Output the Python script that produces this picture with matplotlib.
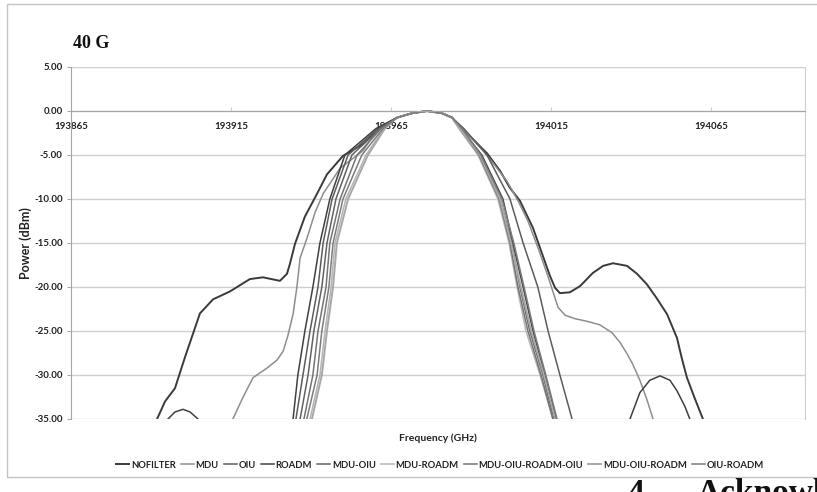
import matplotlib.pyplot as plt
from matplotlib.patches import Rectangle
from matplotlib.ticker import FormatStrFormatter, MultipleLocator

# spectra (frequency in GHz, power in dBm)
freq_ticks = [193865, 193915, 193965, 194015, 194065]

nofilter_f = [193891.9, 193894.4, 193897.5, 193900.6, 193905.3, 193909.4, 193914.7, 193920.9,
              193925.0, 193930.3, 193932.5, 193933.4, 193935.0, 193938.1, 193941.9, 193945.0,
              193950.0, 193956.3, 193960.3, 193966.9, 193971.6, 193976.3, 193980.9, 193984.1,
              193985.6, 193990.6, 193995.0, 193999.1, 194002.2, 194005.3, 194009.4, 194012.5,
              194014.7, 194016.3, 194017.8, 194020.9, 194024.1, 194028.1, 194031.3, 194034.4,
              194038.8, 194041.9, 194045.0, 194048.1, 194051.3, 194054.4, 194055.9, 194057.5,
              194060.0, 194062.5]
nofilter_p = [-35, -33, -31.5, -28, -23, -21.4, -20.5, -19.1,
              -18.9, -19.3, -18.5, -17.4, -15.1, -12, -9.4, -7.2,
              -5.1, -3.75, -2.3, -0.75, -0.25, 0, -0.25, -0.75,
              -1.5, -3.2, -4.8, -6.8, -8.75, -10.2, -13.3, -16.5,
              -18.75, -20.1, -20.7, -20.6, -19.9, -18.4, -17.6, -17.3,
              -17.6, -18.5, -19.7, -21.3, -23.1, -25.8, -28.1, -30.3,
              -32.7, -35]

mdu_f = [193915.6, 193918.8, 193921.9, 193926.3, 193929.4, 193931.3, 193932.8, 193934.4,
         193935.6, 193936.6, 193938.8, 193941.3, 193943.8, 193949.1, 193956.3, 193960.9,
         193966.9, 193971.6, 193976.3, 193980.9, 193984.1, 193989.7, 193993.8, 193997.5,
         194001.3, 194004.7, 194007.8, 194010.9, 194013.8, 194015.6, 194017.2, 194019.4,
         194022.5, 194026.3, 194030.3, 194034.1, 194036.6, 194038.8, 194040.6, 194042.8,
         194045.0, 194046.9]
mdu_p = [-35, -32.5, -30.3, -29.2, -28.3, -27.3, -25.5, -23.1,
         -20.0, -16.7, -14.4, -11.5, -9.4, -6.5, -4.5, -2.0,
         -0.75, -0.25, 0, -0.25, -0.75, -2.9, -4.5, -6.2,
         -8.0, -10.2, -12.5, -15.5, -18.5, -20.5, -22.3, -23.2,
         -23.6, -23.9, -24.3, -25.2, -26.3, -27.6, -28.8, -30.6,
         -32.8, -35]

roadm_f = [193894.4, 193895.3, 193897.5, 193900.0, 193902.2, 193904.7, 193906.3, 193920.0,
           193933.8, 193934.4, 193935.9, 193938.1, 193940.6, 193942.8, 193945.9, 193950.6,
           193960.3, 193966.9, 193971.6, 193976.3, 193980.9, 193984.1, 193986.9, 193993.4,
           194000.0, 194003.1, 194006.3, 194009.4, 194013.1, 194016.6, 194018.0, 194028.0,
           194038.1, 194039.7, 194042.8, 194045.9, 194049.1, 194052.2, 194054.4, 194056.9,
           194058.4, 194060.0]
roadm_p = [-37, -35, -34.2, -33.9, -34.2, -35, -37, -42,
           -37, -35, -30, -25, -20, -15, -10, -5,
           -2, -0.75, -0.25, 0, -0.25, -0.75, -2, -5,
           -10, -15, -20, -25, -30, -35, -37, -42,
           -37, -35, -32, -30.6, -30.1, -30.6, -31.8, -33.6,
           -35, -37]

# the seven narrow filtered spectra share the same power levels
levels = [-35, -30, -25, -20, -15, -10, -5, -2, -0.75, -0.25, 0,
          -0.25, -0.75, -2, -5, -10, -15, -20, -25, -30, -35]
top_f = [193966.9, 193971.6, 193976.3, 193980.9, 193984.1]

oiu_f = [193935.3, 193937.5, 193939.7, 193942.2, 193943.8, 193946.6, 193951.6, 193960.9] + top_f + \
        [193987.8, 193995.0, 194002.2, 194006.3, 194010.9, 194014.1, 194017.8, 194021.6]
mdu_oiu_f = [193936.6, 193939.1, 193940.9, 193943.4, 193945.0, 193947.8, 193952.8, 193961.6] + top_f + \
            [193986.9, 193992.8, 193999.1, 194002.8, 194005.3, 194008.4, 194012.5, 194015.9]
mdu_roadm_f = [193939.7, 193942.8, 193944.4, 193946.3, 193947.5, 193950.9, 193957.2, 193962.8] + top_f + \
              [193986.2, 193992.2, 193998.4, 194001.9, 194004.4, 194007.2, 194011.6, 194015.6]
mdu_oiu_roadm_oiu_f = [193937.8, 193940.6, 193942.2, 193944.7, 193945.9, 193949.1, 193954.4, 193961.9] + top_f + \
                      [193986.6, 193992.5, 193998.8, 194002.2, 194004.7, 194007.8, 194011.9, 194015.6]
mdu_oiu_roadm_f = [193940.3, 193943.4, 193945.0, 193946.9, 193948.1, 193951.6, 193957.8, 193963.1] + top_f + \
                  [193986.6, 193992.8, 193999.1, 194002.5, 194005.6, 194008.8, 194012.8, 194016.3]
oiu_roadm_f = [193938.7, 193941.9, 193943.4, 193945.6, 193946.9, 193950.0, 193955.9, 193962.5] + top_f + \
              [193987.2, 193993.1, 193999.7, 194003.4, 194006.6, 194009.7, 194013.4, 194016.9]

series = [
    ("NOFILTER", nofilter_f, nofilter_p, "#3a3a3a", 1.4),
    ("MDU", mdu_f, mdu_p, "#8e8e8e", 1.1),
    ("OIU", oiu_f, levels, "#5c5c5c", 1.1),
    ("ROADM", roadm_f, roadm_p, "#404040", 1.1),
    ("MDU-OIU", mdu_oiu_f, levels, "#626262", 1.1),
    ("MDU-ROADM", mdu_roadm_f, levels, "#b4b4b4", 1.1),
    ("MDU-OIU-ROADM-OIU", mdu_oiu_roadm_oiu_f, levels, "#747474", 1.1),
    ("MDU-OIU-ROADM", mdu_oiu_roadm_f, levels, "#a8a8a8", 1.4),
    ("OIU-ROADM", oiu_roadm_f, levels, "#7c7c7c", 1.1),
]

W, H = 817, 492
fig = plt.figure(figsize=(W / 100, H / 100), dpi=100)
fig.patches.append(Rectangle((7 / W, 1 - 477 / H), 820 / W, 473 / H, transform=fig.transFigure,
                             fill=False, edgecolor="#c4c4c4", linewidth=1))

ax = fig.add_axes([71 / W, 1 - 419 / H, 734 / W, 352 / H])
for name, f, p, color, lw in series:
    ax.plot(f, p, color=color, linewidth=lw, label=name)

ax.set_xlim(193865, 194094.4)
ax.set_ylim(-35, 5)
ax.set_xticks(freq_ticks)
ax.yaxis.set_major_locator(MultipleLocator(5))
ax.yaxis.set_major_formatter(FormatStrFormatter("%.2f"))
ax.xaxis.set_major_formatter(FormatStrFormatter("%d"))
ax.grid(axis="y", color="#cfcfcf", linewidth=1)
ax.set_axisbelow(True)

ax.spines["bottom"].set_position(("data", 0))
ax.spines["bottom"].set_color("#a6a6a6")
ax.spines["left"].set_color("#a6a6a6")
ax.spines["right"].set_color("#cfcfcf")
ax.spines["top"].set_visible(False)

tick_font = dict(family="Lato", weight="bold", size=7)
ax.tick_params(axis="y", length=3, width=0.8, color="#a6a6a6", pad=3, labelcolor="#222222")
ax.tick_params(axis="x", direction="in", length=3, width=0.8, color="#cfcfcf", pad=8, labelcolor="#222222")
for lab in ax.get_xticklabels() + ax.get_yticklabels():
    lab.set_fontproperties(tick_font)

fig.text(26 / W, 1 - 243 / H, "Power (dBm)", family="Lato", weight="bold", fontsize=9,
         color="#222222", ha="center", va="center", rotation=90)
fig.text(438 / W, 1 - 438 / H, "Frequency (GHz)", family="Lato", weight="bold", fontsize=7.5,
         color="#222222", ha="center", va="center")
fig.text(73 / W, 1 - 48 / H, "40 G", family="Liberation Serif", weight="bold", fontsize=13,
         color="#111111", ha="left", va="baseline")

ax.legend(loc="center", bbox_to_anchor=(440 / W, 1 - 465 / H), bbox_transform=fig.transFigure,
          ncol=9, frameon=False, prop=dict(family="Lato", weight="bold", size=6.8),
          handlelength=1.4, handletextpad=0.15, columnspacing=0.55, labelcolor="#222222")

fig.text(627 / W, 1 - 478 / H, "4", family="Liberation Serif", weight="bold", fontsize=24,
         color="#111111", ha="left", va="top")
fig.text(697 / W, 1 - 478 / H, "Acknowledgments", family="Liberation Serif", weight="bold",
         fontsize=24, color="#111111", ha="left", va="top")

fig.savefig("out.png", dpi=100)
